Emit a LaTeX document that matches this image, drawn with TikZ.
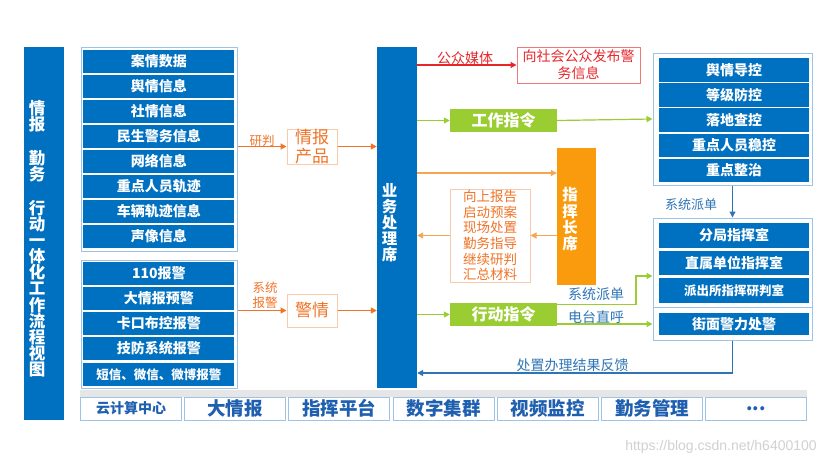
\documentclass[tikz,border=0pt]{standalone}
\usepackage{fontspec}
\setmainfont{Noto Sans CJK SC}
\newfontfamily\wmfont{Liberation Sans}
\usetikzlibrary{arrows.meta}
\definecolor{mainblue}{HTML}{0070C0}
\definecolor{frameblue}{HTML}{9DC3E6}
\definecolor{grn}{HTML}{9ACD32}
\definecolor{orbar}{HTML}{F99B0C}
\definecolor{ordark}{HTML}{F07428}
\definecolor{orlight}{HTML}{F5A650}
\definecolor{orborder}{HTML}{F8CBAD}
\definecolor{redc}{HTML}{E8262A}
\definecolor{redborder}{HTML}{F07878}
\definecolor{lblblue}{HTML}{2E75B6}
\definecolor{btmtext}{HTML}{1F5FAF}
\definecolor{strip}{HTML}{E6E6E6}
\newcommand\myfs[2]{\fontsize{#1pt}{#2pt}\selectfont}
\tikzset{
  framebox/.style={draw=frameblue, line width=1pt, inner sep=0pt},
  rowbox/.style={fill=mainblue, text=white, inner sep=0pt, minimum height=23.5pt, font=\myfs{14}{16}\bfseries},
  bigbar/.style={fill=mainblue, inner sep=0pt},
  vtext/.style={text=white, align=center, inner sep=0pt},
  grnbox/.style={fill=grn, text=white, inner sep=0pt, minimum width=107pt, minimum height=23pt, font=\myfs{16}{18}\bfseries},
  orbox/.style={draw=orborder, line width=1pt, text=ordark, inner sep=0pt, align=center},
  lbl/.style={inner sep=0pt, align=center},
  btmbox/.style={draw=frameblue, line width=1pt, fill=white, text=btmtext, inner sep=0pt, minimum width=101pt, minimum height=23pt, font=\myfs{18.5}{20}\bfseries},
  arr/.style={line width=1.2pt, -{Triangle[length=6pt,width=6pt]}},
  oarrow/.style={arr, draw=ordark},
  loarrow/.style={arr, draw=orlight},
  rarrow/.style={arr, draw=redc},
  garrow/.style={arr, draw=grn},
  barrow/.style={arr, draw=lblblue}
}
\begin{document}
\begin{tikzpicture}[x=1pt,y=-1pt]
\useasboundingbox[fill=white] (0,0) rectangle (835,466);

% left title bar
\node[bigbar, minimum width=40pt, minimum height=373pt] (lbar) at (44,233.5) {};
\node[vtext, font=\myfs{16.5}{16.1}\bfseries] (ltxt) at (37,238.5)
  {情\\报\\[18pt]勤\\务\\[18pt]行\\动\\一\\体\\化\\工\\作\\流\\程\\视\\图};

% group 1 (information sources)
\node[framebox, minimum width=156pt, minimum height=204pt] (g1) at (159,149) {};
\node[rowbox, minimum width=151pt] (a1) at (158.8,61.5) {案情数据};
\node[rowbox, minimum width=151pt] (a2) at (158.8,86.5) {舆情信息};
\node[rowbox, minimum width=151pt] (a3) at (158.8,111.5) {社情信息};
\node[rowbox, minimum width=151pt] (a4) at (158.8,136.5) {民生警务信息};
\node[rowbox, minimum width=151pt] (a5) at (158.8,161.5) {网络信息};
\node[rowbox, minimum width=151pt] (a6) at (158.8,186.5) {重点人员轨迹};
\node[rowbox, minimum width=151pt] (a7) at (158.8,211.5) {车辆轨迹信息};
\node[rowbox, minimum width=151pt] (a8) at (158.8,236.5) {声像信息};

% group 2 (alarms)
\node[framebox, minimum width=156pt, minimum height=128pt] (g2) at (159,324) {};
\node[rowbox, minimum width=151pt] (b1) at (158.8,273.5) {110报警};
\node[rowbox, minimum width=151pt] (b2) at (158.8,298.5) {大情报预警};
\node[rowbox, minimum width=151pt] (b3) at (158.8,323.5) {卡口布控报警};
\node[rowbox, minimum width=151pt] (b4) at (158.8,348.5) {技防系统报警};
\node[rowbox, minimum width=151pt, font=\myfs{12.5}{14}\bfseries] (b5) at (158.8,374.5) {短信、微信、微博报警};

% intermediate boxes
\node[orbox, minimum width=50pt, minimum height=35pt, font=\myfs{17}{19}] (prod) at (312,146.5) {情报\\产品};
\node[orbox, minimum width=50pt, minimum height=33pt, font=\myfs{17}{19}] (jq) at (312,310.5) {警情};
\node[lbl, text=ordark, font=\myfs{12.5}{14}] (lyp) at (262,141) {研判};
\node[lbl, text=ordark, font=\myfs{12.5}{15}] (lbj) at (265,295) {系统\\报警};

% business desk bar
\node[bigbar, minimum width=40pt, minimum height=341pt] (bar1) at (397,217.5) {};
\node[vtext, font=\myfs{15.5}{16}\bfseries] (btxt) at (389.5,222.5) {业\\务\\处\\理\\席};

% arrows into the desk
\draw[oarrow] (g1.east |- prod.west) -- (prod.west);
\draw[oarrow] (prod.east) -- (bar1.west |- prod.east);
\draw[oarrow] (g2.east |- jq.west) -- (jq.west);
\draw[oarrow] (jq.east) -- (bar1.west |- jq.east);

% public media
\node[draw=redborder, line width=1pt, text=redc, inner sep=0pt, align=center, minimum width=123pt, minimum height=36pt, font=\myfs{14}{17}] (media) at (578.5,65) {向社会公众发布警\\务信息};
\node[lbl, text=redc, font=\myfs{14}{16}] (lmedia) at (465,58.5) {公众媒体};
\draw[rarrow] (bar1.east |- media.west) -- (media.west);

% work command
\node[grnbox] (work) at (503.5,120.5) {工作指令};
\draw[garrow] (bar1.east |- work.west) -- (work.west);

% right group 1
\node[framebox, minimum width=159pt, minimum height=132pt] (rf1) at (732.5,119) {};
\node[rowbox, minimum width=150pt] (c1) at (734,70) {舆情导控};
\node[rowbox, minimum width=150pt] (c2) at (734,95) {等级防控};
\node[rowbox, minimum width=150pt] (c3) at (734,120) {落地查控};
\node[rowbox, minimum width=150pt] (c4) at (734,145.5) {重点人员稳控};
\node[rowbox, minimum width=150pt] (c5) at (734,170.5) {重点整治};
\draw[garrow] (work.east) -- (rf1.west);

% right group 2
\node[framebox, minimum width=159pt, minimum height=89pt] (rf2) at (732.5,262.5) {};
\node[framebox, minimum width=159pt, minimum height=33pt] (rf3) at (732.5,323.5) {};
\node[rowbox, minimum width=150pt, minimum height=24.5pt] (d1) at (734,235.5) {分局指挥室};
\node[rowbox, minimum width=150pt, minimum height=24.5pt] (d2) at (734,263) {直属单位指挥室};
\node[rowbox, minimum width=150pt, minimum height=24.5pt, font=\myfs{12.5}{14}\bfseries] (d3) at (734,290.5) {派出所指挥研判室};
\node[rowbox, minimum width=150pt, minimum height=22pt] (d4) at (734,324) {街面警力处警};
\draw[barrow] (rf1.south) -- (rf2.north);
\node[lbl, text=lblblue, font=\myfs{13}{15}] (lpd2) at (691,205) {系统派单};

% commander desk
\node[fill=orbar, inner sep=0pt, minimum width=39pt, minimum height=137pt] (cmd) at (576.5,216.5) {};
\node[vtext, font=\myfs{15.5}{16.3}\bfseries] (ctxt) at (570,219.5) {指\\挥\\长\\席};
\coordinate (cmdy) at (480,173);
\draw[loarrow] (bar1.east |- cmdy) -- (cmd.west |- cmdy);

% list box
\node[orbox, minimum width=80pt, minimum height=93pt, font=\myfs{13.5}{15.6}] (list) at (490,235.5)
  {向上报告\\启动预案\\现场处置\\勤务指导\\继续研判\\汇总材料};
\draw[loarrow] (cmd.west |- list.east) -- (list.east);
\draw[loarrow] (list.west) -- (bar1.east |- list.west);

% action command
\node[grnbox] (act) at (503.5,314.5) {行动指令};
\draw[garrow] (bar1.east |- act.west) -- (act.west);
\coordinate (turn) at (636,276);
\coordinate (sdtop) at (557,304.5);
\coordinate (sdbot) at (557,324);
\draw[garrow] (sdtop) -| (turn) -- (rf2.west |- turn);
\draw[garrow] (sdbot) -- (rf3.west |- sdbot);
\node[lbl, text=lblblue, font=\myfs{14}{16}] (lpd) at (596,294) {系统派单};
\node[lbl, text=lblblue, font=\myfs{14}{16}] (ldt) at (596,317) {电台直呼};

% feedback
\coordinate (fby) at (500,373);
\draw[barrow] (rf3.south) |- (bar1.east |- fby);
\node[lbl, text=lblblue, font=\myfs{14}{16}] (lfb) at (572.5,365) {处置办理结果反馈};

% bottom platform
\node[fill=strip, inner sep=0pt, minimum width=727pt, minimum height=7pt] (stripbar) at (443.5,393.5) {};
\node[btmbox, font=\myfs{14}{16}\bfseries] (p1) at (131,408.5) {云计算中心};
\node[btmbox] (p2) at (235.2,408.5) {大情报};
\node[btmbox] (p3) at (339.4,408.5) {指挥平台};
\node[btmbox] (p4) at (443.6,408.5) {数字集群};
\node[btmbox] (p5) at (547.8,408.5) {视频监控};
\node[btmbox] (p6) at (652,408.5) {勤务管理};
\node[btmbox] (p7) at (756.2,408.5) {...};

% watermark
\node[lbl, text=black!18, font=\wmfont\myfs{14}{16}] (wm) at (721,447) {https://blog.csdn.net/h6400100};
\end{tikzpicture}
\end{document}
